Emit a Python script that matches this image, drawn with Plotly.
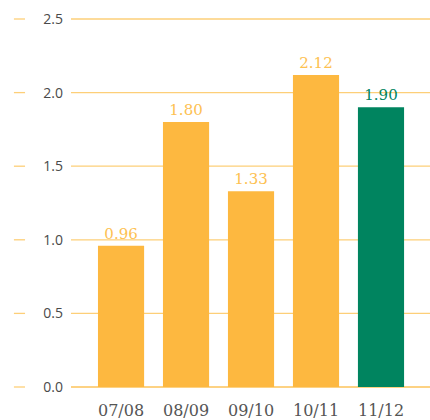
import plotly.graph_objects as go

# Fiscal years and values
years = ["07/08", "08/09", "09/10", "10/11", "11/12"]
values = [0.96, 1.80, 1.33, 2.12, 1.90]
bar_colors = ["#FDB840", "#FDB840", "#FDB840", "#FDB840", "#00845F"]
label_colors = ["#FDC152", "#FDC152", "#FDC152", "#FDC152", "#00845F"]

y_ticks = [0.0, 0.5, 1.0, 1.5, 2.0, 2.5]
y_tick_text = ["0.0", "0.5", "1.0", "1.5", "2.0", "2.5"]

grid_color = "#FDCF78"
base_color = "#FDC35A"

fig = go.Figure()
fig.add_trace(go.Bar(
    x=years,
    y=values,
    marker=dict(color=bar_colors, line=dict(width=0)),
    width=0.71,
    text=[f"{v:.2f}" for v in values],
    textposition="outside",
    textfont=dict(family="DejaVu Serif", size=15, color=label_colors),
    cliponaxis=False,
    hoverinfo="skip",
))

# horizontal grid lines plus short dashes to the left of the tick labels
for t in y_ticks:
    color = base_color if t == 0 else grid_color
    fig.add_shape(type="line", xref="paper", yref="y", layer="below",
                  x0=0, x1=1, y0=t, y1=t,
                  line=dict(color=color, width=1.3))
    fig.add_shape(type="line", xref="paper", yref="y",
                  x0=-0.159, x1=-0.128, y0=t, y1=t,
                  line=dict(color=grid_color, width=1.3))

fig.update_layout(
    width=430, height=420,
    margin=dict(l=71, r=0, t=18, b=32),
    paper_bgcolor="white",
    plot_bgcolor="white",
    showlegend=False,
    xaxis=dict(
        type="category",
        range=[-0.77, 4.754],
        showgrid=False,
        showline=False,
        zeroline=False,
        ticks="",
        automargin=False,
        ticklabelstandoff=11,
        tickfont=dict(family="DejaVu Serif", size=16, color="#555555"),
    ),
    yaxis=dict(
        range=[-0.0068, 2.5068],
        tickvals=y_ticks,
        ticktext=y_tick_text,
        showgrid=False,
        zeroline=False,
        showline=False,
        ticks="",
        automargin=False,
        ticklabelstandoff=7,
        tickfont=dict(family="Open Sans", size=14, color="#4A4A4A"),
    ),
)

fig.write_html("out.html")
